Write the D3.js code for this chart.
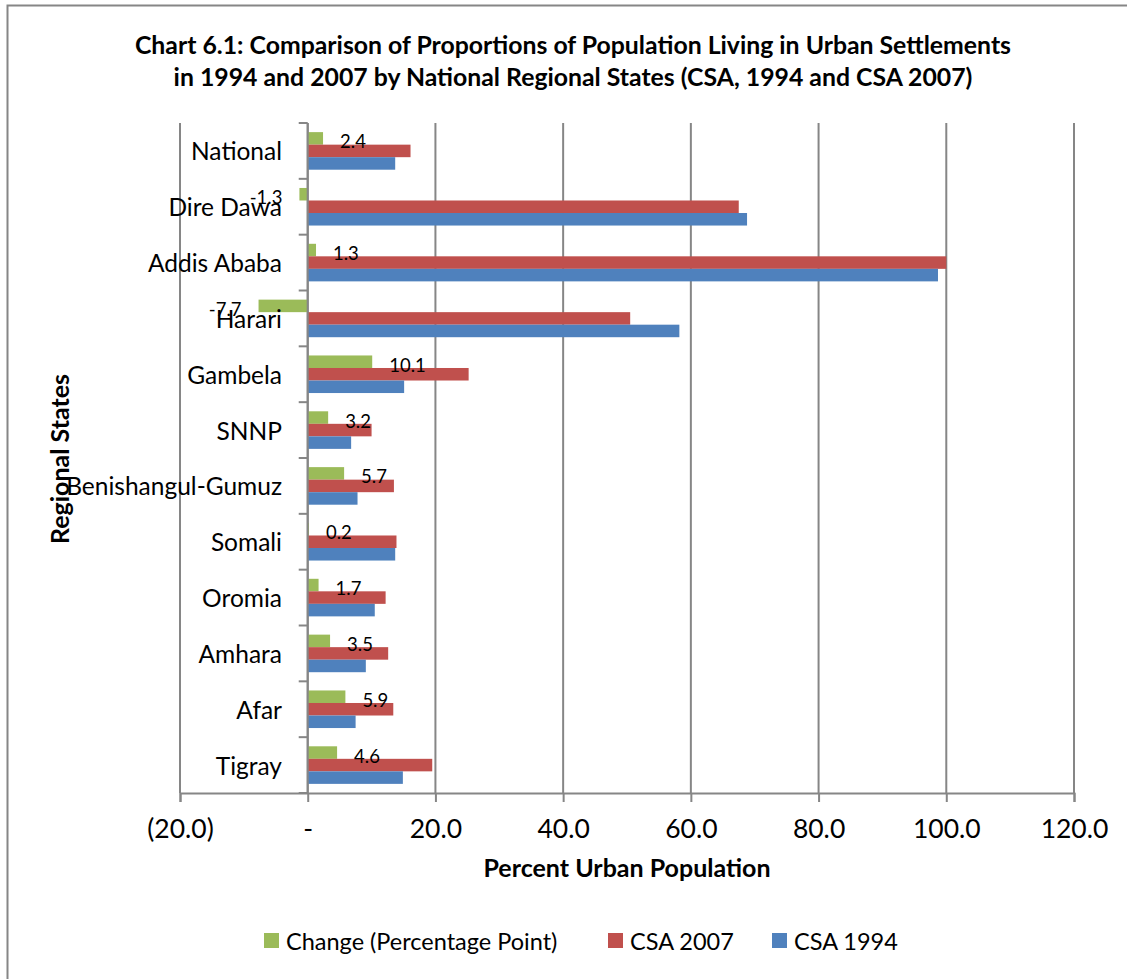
<!DOCTYPE html>
<html>
<head>
<meta charset="utf-8">
<script src="https://cdn.jsdelivr.net/npm/d3@7"></script>
<style>
  body { margin: 0; background: #fff; }
  svg { display: block; font-family: Lato, "Open Sans", sans-serif; }
</style>
</head>
<body>
<svg id="chart" width="1127" height="979"></svg>
<script>
const categories = ["National", "Dire Dawa", "Addis Ababa", "Harari", "Gambela", "SNNP",
  "Benishangul-Gumuz", "Somali", "Oromia", "Amhara", "Afar", "Tigray"];
const change = [2.4, -1.3, 1.3, -7.7, 10.1, 3.2, 5.7, 0.2, 1.7, 3.5, 5.9, 4.6];
const csa2007 = [16.1, 67.5, 100.0, 50.5, 25.2, 10.0, 13.5, 13.9, 12.2, 12.6, 13.4, 19.5];
const csa1994 = [13.7, 68.8, 98.7, 58.2, 15.1, 6.8, 7.8, 13.7, 10.5, 9.1, 7.5, 14.9];
const xTicks = [-20, 0, 20, 40, 60, 80, 100, 120];
const seriesNames = ["Change (Percentage Point)", "CSA 2007", "CSA 1994"];
const seriesColors = ["#9BBB59", "#C0504D", "#4F81BD"];
const titleLines = ["Chart 6.1: Comparison of Proportions of Population Living in Urban Settlements",
  "in 1994 and 2007 by National Regional States (CSA, 1994 and CSA 2007)"];

const series = [change, csa2007, csa1994];
const svg = d3.select("#chart");
const W = 1127, H = 979;
const fmt = v => d3.format(".1f")(v).replace("\u2212", "-");

// outer frame (left and top)
svg.append("path").attr("d", `M7.5,${H} V5.5 H${W}`).attr("fill", "none")
  .attr("stroke", "#868686").attr("stroke-width", 2);

const plot = { left: 180, right: 1074, top: 123, bottom: 793 };
const x = d3.scaleLinear().domain([-20, 120]).range([plot.left, plot.right]);
const y = d3.scaleBand().domain(categories).range([plot.top, plot.bottom])
  .paddingInner(0.327).paddingOuter(0.1635);
const ySub = d3.scaleBand().domain([0, 1, 2]).range([0, y.bandwidth()]);

// title
svg.append("g").selectAll("text").data(titleLines).join("text")
  .attr("x", 573).attr("y", (d, i) => 54 + i * 32)
  .attr("text-anchor", "middle").attr("font-weight", "bold").attr("font-size", 24.8)
  .attr("fill", "#000").text(d => d);

// gridlines
svg.append("g").selectAll("line").data(xTicks).join("line")
  .attr("x1", d => x(d)).attr("x2", d => x(d))
  .attr("y1", plot.top).attr("y2", plot.bottom)
  .attr("stroke", "#868686").attr("stroke-width", 2);

// bars
const groups = svg.append("g").selectAll("g").data(series).join("g")
  .attr("fill", (d, i) => seriesColors[i]);
groups.each(function (vals, si) {
  d3.select(this).selectAll("rect").data(vals).join("rect")
    .attr("x", d => x(Math.min(0, d)))
    .attr("width", d => Math.abs(x(d) - x(0)))
    .attr("y", (d, i) => y(categories[i]) + ySub(si))
    .attr("height", ySub.bandwidth());
});

// y axis (at 0)
const yAxisG = svg.append("g").attr("transform", `translate(${x(0)},0)`);
yAxisG.append("line").attr("y1", plot.top).attr("y2", plot.bottom)
  .attr("stroke", "#868686").attr("stroke-width", 2);
const bounds = categories.map(c => y(c) - y.step() * y.paddingOuter()).concat([plot.bottom]);
yAxisG.selectAll("line.tick").data(bounds).join("line").attr("class", "tick")
  .attr("x1", -9).attr("x2", 0).attr("y1", d => d).attr("y2", d => d)
  .attr("stroke", "#868686").attr("stroke-width", 2);

// category labels
svg.append("g").selectAll("text").data(categories).join("text")
  .attr("x", 282).attr("y", d => y(d) + y.bandwidth() / 2)
  .attr("dominant-baseline", "central").attr("text-anchor", "end")
  .attr("font-size", 24.5).attr("fill", "#000").text(d => d);

// x axis
const xAxis = d3.axisBottom(x).tickValues(xTicks).tickSize(9).tickPadding(17)
  .tickFormat(d => d === 0 ? "-" : d < 0 ? `(${fmt(-d)})` : fmt(d));
const xg = svg.append("g").attr("transform", `translate(0,${plot.bottom})`).call(xAxis);
xg.select(".domain").attr("stroke", "#868686").attr("stroke-width", 2);
xg.selectAll(".tick line").attr("stroke", "#868686").attr("stroke-width", 2);
xg.selectAll(".tick text").attr("font-size", 26.5).attr("font-family", "Lato").attr("fill", "#000");

// data labels for change
svg.append("g").selectAll("text").data(change).join("text")
  .attr("x", d => d >= 0 ? x(d) + 17 : x(d) - 17)
  .attr("y", (d, i) => y(categories[i]) + ySub(0) + ySub.bandwidth() / 2 + 3)
  .attr("text-anchor", d => d >= 0 ? "start" : "end")
  .attr("dominant-baseline", "central")
  .attr("font-size", 18.5).attr("fill", "#000")
  .text(d => fmt(d));

// axis titles
svg.append("text").attr("x", 627).attr("y", 877).attr("text-anchor", "middle")
  .attr("font-weight", "bold").attr("font-size", 25).text("Percent Urban Population");
svg.append("text").attr("transform", "translate(69,459) rotate(-90)")
  .attr("text-anchor", "middle").attr("font-weight", "bold").attr("font-size", 25)
  .text("Regional States");

// legend
const legendX = [264, 608, 772];
const leg = svg.append("g").selectAll("g").data(seriesNames).join("g")
  .attr("transform", (d, i) => `translate(${legendX[i]},933)`);
leg.append("rect").attr("width", 15).attr("height", 15).attr("fill", (d, i) => seriesColors[i]);
leg.append("text").attr("x", 22).attr("y", 8).attr("dominant-baseline", "central")
  .attr("font-size", 23.5).attr("fill", "#000").text(d => d);
</script>
</body>
</html>
